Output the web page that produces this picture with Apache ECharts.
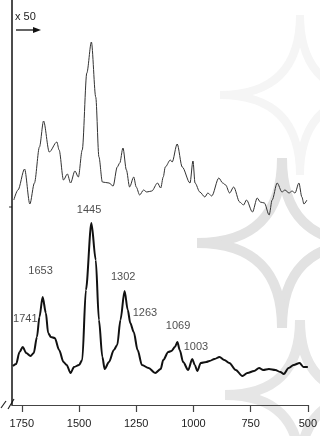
<!DOCTYPE html>
<html>
<head>
<meta charset="utf-8">
<script src="https://cdn.jsdelivr.net/npm/echarts@6/dist/echarts.min.js"></script>
<style>
html, body { margin: 0; padding: 0; background: #fff; }
#chart { width: 320px; height: 436px; }
</style>
</head>
<body>
<div id="chart"></div>
<script>
// spectrum x 50 (upper trace), wavenumber in cm-1 and relative intensity
const topWave = [1785, 1767, 1738, 1715, 1695, 1673, 1655, 1630, 1597, 1587, 1568, 1551, 1537, 1518, 1503, 1486, 1466, 1446, 1427, 1413, 1398, 1369, 1351, 1333, 1322, 1308, 1293, 1279, 1261, 1250, 1235, 1218, 1204, 1182, 1157, 1143, 1132, 1123, 1101, 1093, 1071, 1049, 1015, 1002, 993, 972, 950, 937, 920, 889, 872, 859, 842, 824, 798, 781, 768, 742, 721, 708, 690, 669, 656, 634, 613, 600, 582, 569, 556, 539, 526, 517, 504];
const topValue = [205, 215, 236, 201, 222, 258, 284, 253, 263, 255, 225, 231, 222, 234, 228, 255, 332, 363, 308, 248, 223, 222, 219, 238, 242, 257, 235, 218, 228, 218, 210, 215, 213, 214, 222, 217, 228, 238, 245, 243, 261, 238, 222, 244, 222, 213, 208, 212, 209, 227, 222, 220, 212, 218, 203, 200, 205, 193, 207, 203, 202, 190, 205, 222, 213, 215, 212, 214, 212, 222, 208, 201, 205];

// raw spectrum (lower trace)
const bottomWave = [1789, 1775, 1760, 1746, 1731, 1712, 1698, 1684, 1673, 1659, 1645, 1635, 1623, 1606, 1587, 1568, 1554, 1537, 1522, 1500, 1486, 1470, 1446, 1427, 1413, 1398, 1388, 1369, 1348, 1333, 1319, 1301, 1287, 1276, 1261, 1244, 1225, 1196, 1167, 1143, 1132, 1110, 1096, 1081, 1070, 1060, 1045, 1023, 1005, 994, 983, 968, 944, 930, 908, 886, 865, 843, 815, 786, 764, 735, 713, 695, 670, 642, 620, 605, 584, 562, 536, 519, 500];
const bottomValue = [39, 41, 53, 58, 52, 49, 52, 68, 88, 108, 92, 72, 68, 67, 55, 43, 40, 32, 38, 40, 45, 115, 182, 145, 85, 48, 36, 43, 55, 60, 85, 114, 95, 82, 73, 55, 40, 37, 32, 36, 45, 53, 54, 58, 63, 55, 43, 35, 46, 40, 34, 42, 43, 44, 46, 48, 45, 42, 35, 29, 32, 34, 37, 35, 36, 35, 33, 31, 37, 40, 42, 38, 38];

// peak annotations
const peakNames = ['1741', '1653', '1445', '1302', '1263', '1069', '1003'];
const peakLabelWave = [1735, 1668, 1456, 1307, 1212, 1067, 989];
const peakLabelValue = [86, 134, 195, 128, 92, 79, 58];

const xTicks = [1750, 1500, 1250, 1000, 750, 500];

const chart = echarts.init(document.getElementById('chart'));

const zip = (xs, ys) => xs.map((x, i) => [x, ys[i]]);

// faint background pattern (astroid-like stars), 4 concave edges each
function star(cx, cy, r, color, w) {
    const pts = [[cx - r, cy], [cx, cy - r], [cx + r, cy], [cx, cy + r], [cx - r, cy]];
    const edges = [];
    for (let i = 0; i < 4; i++) {
        edges.push({
            type: 'bezierCurve',
            z: -10,
            silent: true,
            shape: { x1: pts[i][0], y1: pts[i][1], cpx1: cx, cpy1: cy, x2: pts[i + 1][0], y2: pts[i + 1][1] },
            style: { fill: null, stroke: color, lineWidth: w }
        });
    }
    return edges;
}

const option = {
    backgroundColor: '#fff',
    animation: false,
    grid: { left: 12, right: 9, top: 0, bottom: 31 },
    xAxis: {
        type: 'value',
        min: 500,
        max: 1793,
        inverse: true,
        axisLine: { show: true, lineStyle: { color: '#444', width: 1.2 } },
        axisTick: { show: true, length: 7, customValues: xTicks, lineStyle: { color: '#444', width: 1.2 } },
        axisLabel: {
            customValues: xTicks,
            formatter: v => String(v),
            margin: 13,
            fontSize: 11,
            color: '#222',
            fontFamily: 'Liberation Sans'
        },
        splitLine: { show: false }
    },
    yAxis: {
        type: 'value',
        min: 0,
        max: 405,
        axisLine: { show: true, lineStyle: { color: '#111', width: 1.5 } },
        axisTick: { show: false },
        axisLabel: { show: false },
        splitLine: { show: false }
    },
    graphic: [].concat(
        star(282, 243, 85, '#e2e2e2', 10),
        star(300, 395, 75, '#e6e6e6', 10),
        star(300, 95, 80, '#f5f5f5', 8),
        [
            {
                type: 'text', left: 15, top: 11,
                style: { text: 'x 50', fontSize: 11, fill: '#222', fontFamily: 'Liberation Sans' }
            },
            {
                type: 'line',
                shape: { x1: 16, y1: 30, x2: 35, y2: 30 },
                style: { stroke: '#111', lineWidth: 1.3 }
            },
            {
                type: 'polygon',
                shape: { points: [[33, 27], [41, 30], [33, 33]] },
                style: { fill: '#111' }
            },
            {
                type: 'line',
                shape: { x1: 9, y1: 207, x2: 12, y2: 207 },
                style: { stroke: '#333', lineWidth: 1 }
            },
            {
                type: 'line',
                shape: { x1: 1, y1: 408, x2: 6, y2: 401 },
                style: { stroke: '#222', lineWidth: 1.2 }
            },
            {
                type: 'line',
                shape: { x1: 8, y1: 409, x2: 14, y2: 399 },
                style: { stroke: '#222', lineWidth: 1.2 }
            }
        ]
    ),
    series: [
        {
            name: 'x50',
            type: 'line',
            data: zip(topWave, topValue),
            showSymbol: false,
            smooth: 0.3,
            smoothMonotone: 'x',
            lineStyle: { color: '#333', width: 1 },
            z: 3
        },
        {
            name: 'spectrum',
            type: 'line',
            data: zip(bottomWave, bottomValue),
            showSymbol: false,
            smooth: 0.3,
            smoothMonotone: 'x',
            lineStyle: { color: '#111', width: 2 },
            z: 3
        },
        {
            name: 'peaks',
            type: 'scatter',
            data: zip(peakLabelWave, peakLabelValue).map((d, i) => ({ value: d, name: peakNames[i] })),
            symbolSize: 0,
            label: {
                show: true,
                position: 'inside',
                formatter: p => p.name,
                fontSize: 11,
                color: '#222',
                fontFamily: 'Liberation Sans'
            },
            z: 4
        }
    ]
};

chart.setOption(option);
</script>
</body>
</html>
